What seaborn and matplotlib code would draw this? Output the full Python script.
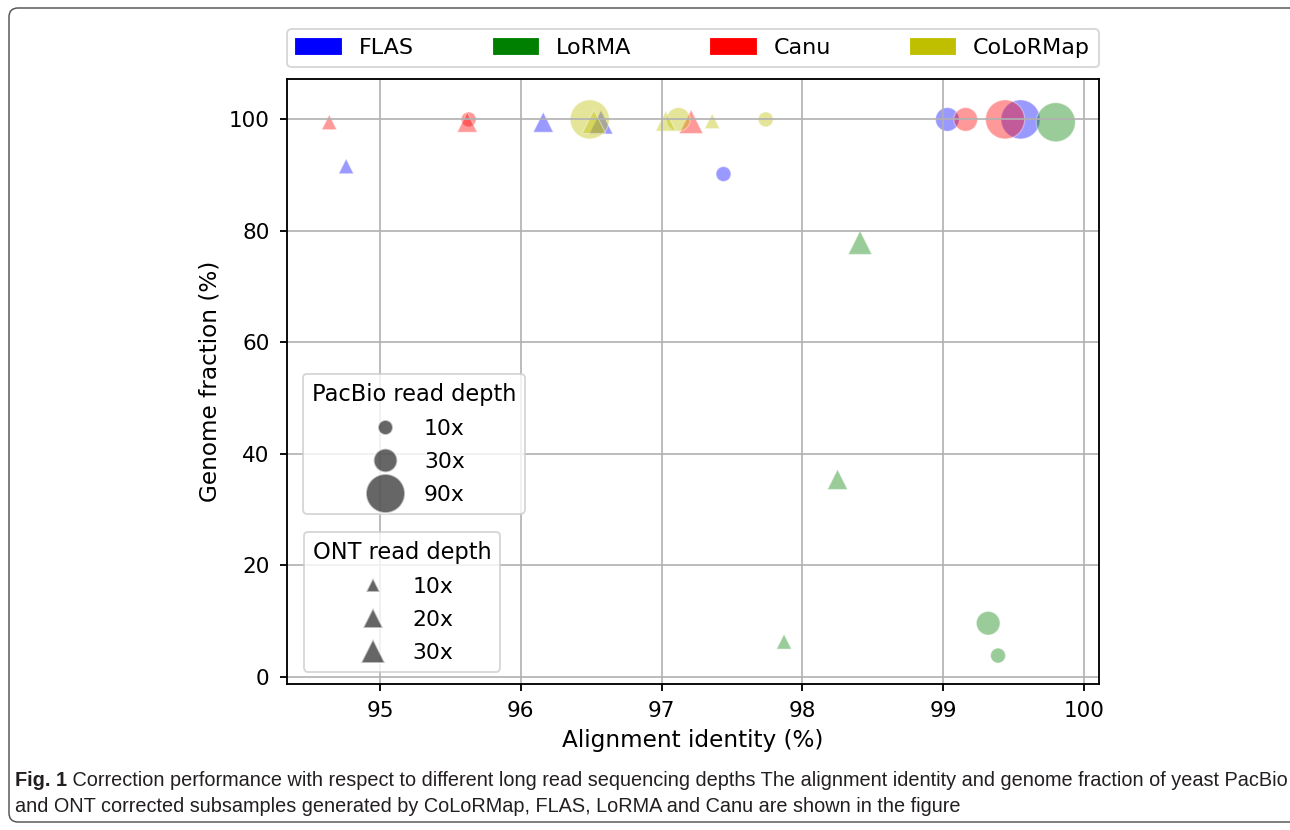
import numpy as np
import pandas as pd
import matplotlib
matplotlib.use("Agg")
import matplotlib.pyplot as plt
import matplotlib.patches as mpatches
from matplotlib.lines import Line2D
from matplotlib.transforms import IdentityTransform
import seaborn as sns

# ---------------- data ----------------
tools = ["FLAS", "LoRMA", "Canu", "CoLoRMap"]
tool_colors = ["blue", "green", "red", "y"]

pacbio_depths = [10, 30, 90]
ont_depths = [10, 20, 30]

# alignment identity (%) / genome fraction (%) per tool
flas_pb_x = [97.44, 99.03, 99.55]
flas_pb_y = [90.2, 100.0, 100.0]
flas_ont_x = [94.76, 96.16, 96.57]
flas_ont_y = [91.6, 99.5, 99.5]

lorma_pb_x = [99.39, 99.32, 99.80]
lorma_pb_y = [3.8, 9.6, 99.5]
lorma_ont_x = [97.87, 98.25, 98.41]
lorma_ont_y = [6.3, 35.4, 77.9]

canu_pb_x = [95.63, 99.16, 99.44]
canu_pb_y = [100.0, 100.0, 100.0]
canu_ont_x = [94.64, 95.62, 97.21]
canu_ont_y = [99.5, 99.5, 99.6]

colormap_pb_x = [97.74, 97.12, 96.49]
colormap_pb_y = [100.0, 100.0, 100.0]
colormap_ont_x = [97.36, 97.03, 96.52]
colormap_ont_y = [99.7, 99.7, 99.6]

rows = []
for tool, pbx, pby, onx, ony in [
    ("FLAS", flas_pb_x, flas_pb_y, flas_ont_x, flas_ont_y),
    ("LoRMA", lorma_pb_x, lorma_pb_y, lorma_ont_x, lorma_ont_y),
    ("Canu", canu_pb_x, canu_pb_y, canu_ont_x, canu_ont_y),
    ("CoLoRMap", colormap_pb_x, colormap_pb_y, colormap_ont_x, colormap_ont_y),
]:
    for d, x, y in zip(pacbio_depths, pbx, pby):
        rows.append(dict(tool=tool, platform="PacBio", depth=d, identity=x, fraction=y))
    for d, x, y in zip(ont_depths, onx, ony):
        rows.append(dict(tool=tool, platform="ONT", depth=d, identity=x, fraction=y))
df = pd.DataFrame(rows)

caption_bold = "Fig. 1"
caption_line1 = (" Correction performance with respect to different long read sequencing depths "
                 "The alignment identity and genome fraction of yeast PacBio")
caption_line2 = "and ONT corrected subsamples generated by CoLoRMap, FLAS, LoRMA and Canu are shown in the figure"

# ---------------- style ----------------
plt.rcParams.update({
    "font.size": 12,
    "font.family": ["DejaVu Sans"],
    "xtick.labelsize": 11.6,
    "ytick.labelsize": 11.6,
    "xtick.major.size": 4,
    "ytick.major.size": 4,
    "xtick.major.pad": 5.5,
    "ytick.major.pad": 5.5,
    "xtick.major.width": 1.0,
    "ytick.major.width": 1.0,
    "axes.labelsize": 12.5,
    "axes.linewidth": 1.0,
    "grid.linewidth": 0.9,
    "legend.fontsize": 11.8,
    "legend.title_fontsize": 12.2,
    "legend.labelspacing": 0.6,
})

size_map = {10: 65, 20: 117, 30: 163, 90: 445}
palette = dict(zip(tools, tool_colors))

DPI = 400 / 3
fig = plt.figure(figsize=(1290 / DPI, 830 / DPI), dpi=DPI)
ax = fig.add_axes([287.3 / 1290, 1 - 683.7 / 830, (1099 - 287.3) / 1290, (683.7 - 79.3) / 830])

sns.scatterplot(data=df, x="identity", y="fraction", hue="tool", style="platform",
                size="depth", sizes=size_map, markers={"PacBio": "o", "ONT": "^"},
                palette=palette, alpha=0.4, edgecolor="w", legend=False, ax=ax)

ax.set_xlim(94.342, 100.107)
ax.set_ylim(-1.25, 107.2)
ax.set_xticks([95, 96, 97, 98, 99, 100])
ax.set_yticks([0, 20, 40, 60, 80, 100])
ax.grid(True)
ax.set_xlabel("Alignment identity (%)")
ax.set_ylabel("Genome fraction (%)")

# top legend (tools)
tool_handles = [mpatches.Patch(facecolor=c, edgecolor=c) for c in tool_colors]
leg_top = ax.legend(tool_handles, tools, loc="lower left", bbox_to_anchor=(0., 1.02, 1., .102),
                    ncol=4, mode="expand", borderaxespad=0., fontsize=12, labelspacing=0.5)
ax.add_artist(leg_top)

# PacBio depth legend
pb_handles = [Line2D([], [], marker="o", linestyle="", markersize=np.sqrt(size_map[d]),
                     markerfacecolor="k", markeredgecolor="w", alpha=0.6) for d in pacbio_depths]
leg_pb = ax.legend(pb_handles, [f"{d}x" for d in pacbio_depths], title="PacBio read depth",
                   loc="upper left", bbox_to_anchor=(0.0193, 0.5124), borderaxespad=0.)
ax.add_artist(leg_pb)

# ONT depth legend
ont_handles = [Line2D([], [], marker="^", linestyle="", markersize=np.sqrt(size_map[d]),
                      markerfacecolor="k", markeredgecolor="w", alpha=0.6) for d in ont_depths]
leg_ont = ax.legend(ont_handles, [f"{d}x" for d in ont_depths], title="ONT read depth",
                    loc="lower left", bbox_to_anchor=(0.0205, 0.0199), borderaxespad=0.)

# ---------------- outer frame & caption ----------------
frame = mpatches.FancyBboxPatch((9, 8), 1320, 814, boxstyle="round,pad=0,rounding_size=9",
                                transform=IdentityTransform(), facecolor="none",
                                edgecolor="#555555", linewidth=0.8)
fig.add_artist(frame)

cap_font = ["Liberation Sans Narrow", "Liberation Sans", "DejaVu Sans"]
renderer = fig.canvas.get_renderer()
fs = 10
t_bold = fig.text(15 / 1290, 1 - 781 / 830, caption_bold, fontsize=fs, fontweight="bold",
                  family=cap_font, color="#231f20", va="center", ha="left")
t1 = fig.text(0, 1 - 781 / 830, caption_line1, fontsize=fs, family=cap_font,
              color="#231f20", va="center", ha="left")
wb = t_bold.get_window_extent(renderer).width
w1 = t1.get_window_extent(renderer).width
scale = (1283 - 15) / (wb + w1)
fs2 = fs * scale
t_bold.set_fontsize(fs2)
t1.set_fontsize(fs2)
wb = t_bold.get_window_extent(renderer).width
t1.set_x((15 + wb) / 1290)
fig.text(15 / 1290, 1 - 806 / 830, caption_line2, fontsize=fs2, family=cap_font,
         color="#231f20", va="center", ha="left")

fig.savefig("out.png", dpi=DPI)
